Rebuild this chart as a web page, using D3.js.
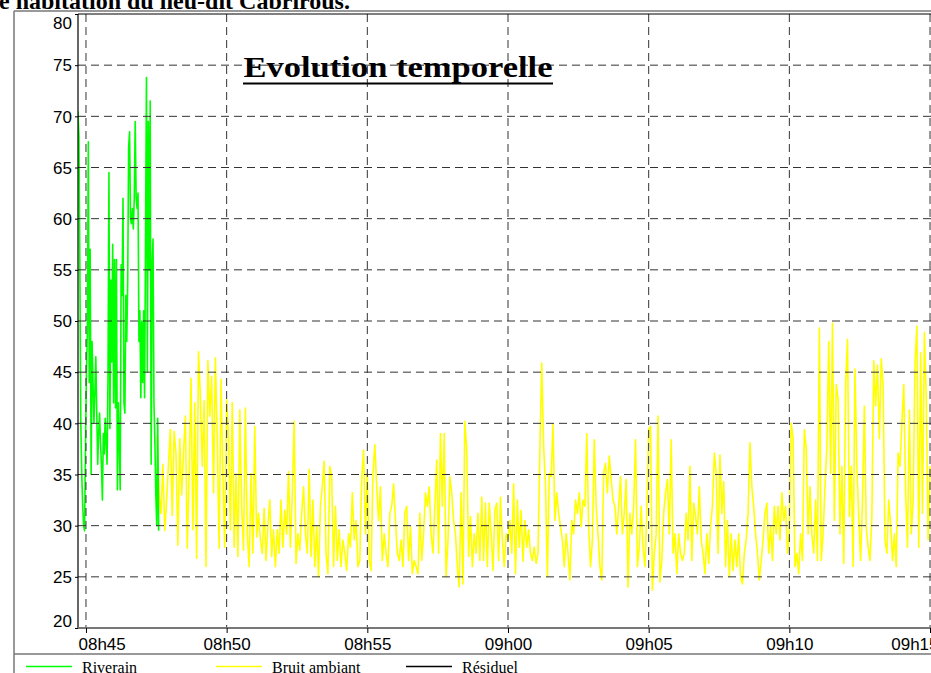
<!DOCTYPE html>
<html><head><meta charset="utf-8">
<script src="https://cdn.jsdelivr.net/npm/d3@7"></script>
<style>html,body{margin:0;padding:0;background:#fff;overflow:hidden}</style>
</head><body><svg id="c" width="931" height="673"></svg>
<script>
// ---------- data ----------
const pageTitle = "e habitation du lieu-dit Cabrirous.";
const chartTitle = "Evolution temporelle";
const yTicks = [20, 25, 30, 35, 40, 45, 50, 55, 60, 65, 70, 75, 80];
const xTickTimes = ["08:45:00", "08:50:00", "08:55:00", "09:00:00", "09:05:00", "09:10:00", "09:15:00"];
const xDomain = ["08:44:43", "09:15:17"];
const seriesNames = ["Riverain", "Bruit ambiant", "Résiduel"];
const seriesColors = ["#00ff00", "#ffff00", "#000000"];

const riverainStart = "08:44:43";
const riverainStep = 2; // seconds
const riverainValues = [
  70.5, 68, 55, 40, 35, 32, 30, 29.5, 38, 45,
  49, 67.5, 44, 57, 35, 48, 44, 40, 43, 46.5,
  41, 36, 39, 41, 38, 36, 32.5, 39, 37, 40.5,
  38, 36, 44.5, 64.5, 39.5, 54, 46, 57.5, 42, 56,
  41.5, 56, 33.5, 42, 38, 33.5, 55.5, 52.5, 62, 42,
  41, 52.5, 48, 54, 67, 68.5, 60, 59.5, 61, 59,
  62, 69.5, 62, 61, 62.5, 48, 51, 42.5, 50, 44,
  51, 42.5, 58, 73.8, 45, 69.5, 55, 71.5, 36, 55.5,
  58, 42, 38, 33, 30, 40.5, 29.5
];

const ambiantStart = "08:47:32";
const ambiantStep = 4; // seconds
const ambiantValues = [
  38.7, 33, 31.2, 36, 29.5, 32.5, 36, 39.4, 31, 39.2,
  37, 28.1, 38.5, 33, 37.1, 40.7, 27.8, 35.1, 44.4, 29.6,
  42, 26.8, 47, 42.6, 35.8, 42.2, 26, 46.1, 40.7, 44.6,
  33.2, 46.4, 38.4, 27.8, 44.3, 34.8, 27.9, 42.3,
  38.7, 29.6, 42, 27.9, 35.1, 27, 41.3, 31.9, 27.6, 41.5,
  29.2, 26, 35.1, 27.3, 39.7, 28.9, 31.2, 28.6, 27.3, 31.7,
  26.6, 29.9, 32.5, 27, 29.6, 26, 29.6, 27.3, 32.5, 27.9,
  31.5, 29.2, 35.3, 27.9, 33.2, 40.2, 26.3, 29.2, 27.6, 31.2,
  33.8, 29.2, 27.3, 35.5, 27, 32.5, 26, 29.9, 25, 31.9,
  33.8, 36.3, 27.3, 25.3, 35.8, 34.8, 26, 31.9, 26.6, 29.6,
  26, 28.6, 27.3, 25.6, 29.2, 27.9, 33.2, 28.6, 30.5, 26,
  26.6, 34.5, 37.4, 29.2, 35.1,
  26.6, 25.6, 35.1, 37.9, 33.8, 30.5, 33.8, 26.6, 29.2, 27.3,
  26, 31.2, 31.9, 34.1, 30.5, 27.3, 26.6, 28.6, 26, 31.2,
  31.9, 26.6, 29.9, 25.3, 26.6, 26, 25.3, 31.2, 26.6, 29.2,
  33.2, 31.9, 33.8, 29.2, 27.3, 31.9, 36.4, 27.3,
  39, 31.9, 39, 25, 28.5, 34.8, 33.2, 30.5, 29.2, 26,
  24, 33.2, 24.3, 40.2, 37.4, 27, 30.9, 26, 29.2, 27.3,
  31.2, 26.6, 32.8, 26.6, 32.2, 26, 32.2, 29.2, 25.6, 31.5,
  32.2, 26.6, 32.8, 28.6, 26, 29.2, 28.6,
  30.5, 27.3, 34.1, 25.3, 32.5, 27.9, 31.5, 26.5, 30.5, 27.9,
  29.6, 27.3, 26.6, 27.9, 26.3, 27.3, 37.5, 45.9, 37.7, 34,
  25, 35.1, 34.8, 39.9, 30.5, 33.2, 31.2, 29.9, 28.6, 26,
  29.2, 27.3, 24.7, 30.5, 29.2, 32.5, 31.2, 33.2, 29.9, 32.5,
  31.9, 39, 29.9, 26, 28.6, 38.4, 31.9, 29.2, 26, 24.7,
  35.1, 36.1, 33.2, 36.8, 34.5, 32.5, 31.9, 29.2, 31.9, 34.8,
  29.2, 31.2, 34.5, 24, 31.2, 29.2, 31.9, 38.4, 26, 27.9,
  31.9, 27.9, 26, 31.2, 39.4,
  39.7, 23.7, 27.3, 29.2, 40.7, 24.5, 26.6, 31.2, 33.2, 34.5,
  29.2, 38.4, 27.3, 29.2, 25.3, 29.2, 27.3, 26.6, 27.3, 31.2,
  28.6, 35.8, 26.6, 32.2, 30.9, 29.2, 33.8, 28.6, 27.3, 25.3,
  29.2, 26.3, 30, 31.9, 37.1, 35.1, 27.3,
  36.9, 31.2, 34.3, 26, 30.5, 25, 29.2, 25.6, 28.6, 26,
  29.2, 25, 24.3, 27.3, 28.6, 31.2, 38.1, 33.8, 31.9, 29.2,
  27.3, 24.7, 26.6, 28.6, 31.2, 32.2, 27.3, 29.9, 26.6, 31.9,
  29.2, 31.9, 28.6, 33.2, 30.5, 31.9, 27.3, 29.2,
  40, 38.5, 26, 27.3, 25.3, 29.2, 26.6, 39.4, 37.5, 29.2,
  33.8, 29.2, 27.3, 32.5, 26.6, 49.3, 26.6, 29.2, 33.8, 37.7,
  48, 35.1, 49.8, 30.5, 43.8, 42.3, 29.2, 35.8, 26.3, 43.8,
  48.2, 30.9, 35.8, 26, 45.3, 35.8, 30.9, 26.6, 32.5, 41.7,
  29.9, 27.9, 26.6, 30.9, 46.1, 41.7, 45.7, 38.5, 46.3, 43.6,
  28.6, 27.3, 32.5, 30, 26.6, 29.2, 26, 37.1, 35.8, 40,
  43.8, 33.2, 27.9, 41.3, 29.2, 32.5, 45.9, 49.5, 27.9, 46.9,
  31.2, 48.9, 42.3, 28.6, 35.8
];

// ---------- chart ----------
const parseT = d3.timeParse("%H:%M:%S");
const svg = d3.select("#c");
const W = 931, H = 673;
const plot = {left: 78, right: 938, top: 14, bottom: 628};

const x = d3.scaleTime().domain(xDomain.map(parseT)).range([plot.left, plot.right]);
const y = d3.scaleLinear().domain([20, 80]).range([plot.bottom, plot.top]);

function series(start, step, vals) {
  const t0 = parseT(start);
  return vals.map((v, i) => ({t: new Date(t0.getTime() + i * step * 1000), v}));
}
const riverain = series(riverainStart, riverainStep, riverainValues);
const ambiant = series(ambiantStart, ambiantStep, ambiantValues);

svg.append("rect").attr("width", W).attr("height", H).attr("fill", "#fff");

// page title (cropped at top)
svg.append("text").attr("x", -1).attr("y", 9)
  .attr("font-family", "'Liberation Serif', 'Times New Roman', serif")
  .attr("font-weight", "bold").attr("font-size", 24).attr("fill", "#000")
  .text(pageTitle);

// outer frame
svg.append("line").attr("x1", 14).attr("x2", W).attr("y1", 11).attr("y2", 11)
  .attr("stroke", "#777").attr("stroke-width", 1.5);
svg.append("line").attr("x1", 14).attr("x2", 14).attr("y1", 11).attr("y2", H)
  .attr("stroke", "#777").attr("stroke-width", 1.5);
svg.append("line").attr("x1", 14).attr("x2", W).attr("y1", 654).attr("y2", 654)
  .attr("stroke", "#777").attr("stroke-width", 1.5);

svg.append("clipPath").attr("id", "clip").append("rect")
  .attr("x", plot.left).attr("y", plot.top)
  .attr("width", plot.right - plot.left).attr("height", plot.bottom - plot.top);

// data lines
const line = d3.line().x(d => x(d.t)).y(d => y(d.v));
const g = svg.append("g").attr("clip-path", "url(#clip)");
g.append("path").datum(ambiant).attr("d", line).attr("fill", "none")
  .attr("stroke", seriesColors[1]).attr("stroke-width", 1.6).attr("stroke-linejoin", "round");
g.append("path").datum(riverain).attr("d", line).attr("fill", "none")
  .attr("stroke", seriesColors[0]).attr("stroke-width", 1.6).attr("stroke-linejoin", "round");

// gridlines
const xt = xTickTimes.map(parseT);
svg.append("g").selectAll("line").data(yTicks.filter(v => v > 20 && v < 80)).join("line")
  .attr("x1", plot.left).attr("x2", plot.right)
  .attr("y1", d => y(d)).attr("y2", d => y(d))
  .attr("stroke", "#333").attr("stroke-width", 1).attr("stroke-dasharray", "8,5");
svg.append("g").selectAll("line").data(xt).join("line")
  .attr("x1", d => x(d)).attr("x2", d => x(d))
  .attr("y1", plot.top).attr("y2", plot.bottom)
  .attr("stroke", "#333").attr("stroke-width", 1).attr("stroke-dasharray", "8,5");

// borders
svg.append("line").attr("x1", plot.left).attr("x2", W).attr("y1", plot.top).attr("y2", plot.top)
  .attr("stroke", "#000").attr("stroke-width", 1.2);
svg.append("line").attr("x1", plot.left).attr("x2", plot.left).attr("y1", plot.top).attr("y2", plot.bottom)
  .attr("stroke", "#000").attr("stroke-width", 1.2);
svg.append("line").attr("x1", plot.left).attr("x2", W).attr("y1", plot.bottom).attr("y2", plot.bottom)
  .attr("stroke", "#777").attr("stroke-width", 2);

// axes
const axFont = "'Liberation Sans', Arial, sans-serif";
const yAxis = svg.append("g").attr("transform", `translate(${plot.left},0)`)
  .call(d3.axisLeft(y).tickValues(yTicks).tickSize(3).tickPadding(3).tickFormat(d3.format("d")));
yAxis.select(".domain").remove();
yAxis.selectAll("text").attr("font-family", axFont).attr("font-size", 17).attr("fill", "#000")
  .attr("dy", d => d === 80 ? "0.86em" : d === 20 ? "-0.06em" : "0.34em");
yAxis.selectAll(".tick line").attr("stroke", "#000");

const xAxis = svg.append("g").attr("transform", `translate(0,${plot.bottom})`)
  .call(d3.axisBottom(x).tickValues(xt).tickSize(5).tickPadding(5).tickFormat(d3.timeFormat("%Hh%M")));
xAxis.select(".domain").remove();
xAxis.selectAll(".tick line").attr("stroke", "#000");
xAxis.selectAll("text").attr("font-family", axFont).attr("font-size", 17).attr("fill", "#000")
  .each(function(d) {
    const w = this.getComputedTextLength();
    const cx = x(d);
    let dx = 0;
    if (cx - w / 2 < plot.left) dx = plot.left - (cx - w / 2);
    if (cx + w / 2 > plot.right) dx = plot.right - (cx + w / 2);
    d3.select(this).attr("x", dx);
  });

// chart title
const tt = svg.append("text").attr("x", 243.5).attr("y", 76.5)
  .attr("font-family", "'Liberation Serif', 'Times New Roman', serif")
  .attr("font-weight", "bold").attr("font-size", 29).attr("fill", "#000")
  .attr("textLength", 309).attr("lengthAdjust", "spacingAndGlyphs")
  .text(chartTitle);
svg.append("line").attr("x1", 243).attr("x2", 553).attr("y1", 83.5).attr("y2", 83.5)
  .attr("stroke", "#000").attr("stroke-width", 2);

// legend
const lg = svg.append("g");
seriesNames.forEach((name, i) => {
  const x0 = 26 + i * 190;
  lg.append("line").attr("x1", x0).attr("x2", x0 + 46).attr("y1", 666.5).attr("y2", 666.5)
    .attr("stroke", seriesColors[i]).attr("stroke-width", 1.5);
  lg.append("text").attr("x", x0 + 56).attr("y", 672.5)
    .attr("font-family", "'Liberation Serif', 'Times New Roman', serif")
    .attr("font-size", 16).attr("fill", "#000").text(name);
});
</script></body></html>
